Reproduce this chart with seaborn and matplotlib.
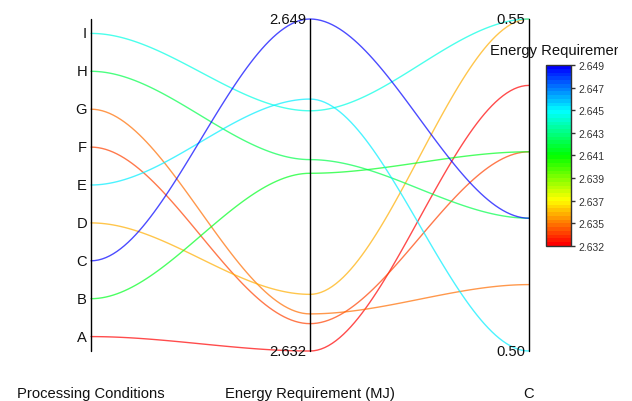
import numpy as np
import pandas as pd
import matplotlib
matplotlib.use("Agg")
import matplotlib.pyplot as plt
import seaborn as sns
from matplotlib.colors import LinearSegmentedColormap, Normalize
from matplotlib.transforms import Bbox, TransformedBbox

# data
conditions = ["A", "B", "C", "D", "E", "F", "G", "H", "I"]
energy = [2.6320, 2.6411, 2.6490, 2.6349, 2.6449, 2.6334, 2.6339, 2.6418, 2.6443]
c_values = [0.540, 0.530, 0.520, 0.550, 0.500, 0.530, 0.510, 0.520, 0.550]
axis_names = ["Processing Conditions", "Energy Requirement (MJ)", "C"]
cbar_tick_labels = ["2.632", "2.635", "2.637", "2.639", "2.641", "2.643", "2.645", "2.647", "2.649"]

e_min, e_max = 2.632, 2.649
c_min, c_max = 0.50, 0.55

cmap = LinearSegmentedColormap.from_list(
    "rainbow_rev",
    [(0.0, "#ff0000"), (0.25, "#ffff00"), (0.5, "#00ff00"), (0.75, "#00ffff"), (1.0, "#0000ff")],
    N=48,
)
norm = Normalize(e_min, e_max)


def smooth_path(p, n=60):
    # each segment is an S-curve that leaves and meets every axis horizontally
    xs, ys = [], []
    t = np.linspace(0, 1, n)
    s = 3 * t**2 - 2 * t**3
    for k in range(len(p) - 1):
        xs.append(k + t)
        ys.append(p[k] + (p[k + 1] - p[k]) * s)
    return np.concatenate(xs), np.concatenate(ys)


pad = 0.38
rows = []
for i, (cond, e, c) in enumerate(zip(conditions, energy, c_values)):
    y0 = (i + pad) / (len(conditions) - 1 + 2 * pad)
    y1 = (e - e_min) / (e_max - e_min)
    y2 = (c - c_min) / (c_max - c_min)
    xs, ys = smooth_path([y0, y1, y2])
    rows.append(pd.DataFrame({"cond": cond, "x": xs, "y": ys, "energy": e}))
df = pd.concat(rows, ignore_index=True)

sns.set_theme(style="white")
plt.rcParams["font.family"] = ["Liberation Sans", "DejaVu Sans"]
FS = 10.6

W, H = 632, 402
fig = plt.figure(figsize=(W / 100, H / 100), dpi=100)
ax = fig.add_axes([91 / W, (H - 352) / H, (529 - 91) / W, (352 - 20) / H])

sns.lineplot(data=df, x="x", y="y", hue="energy", units="cond", estimator=None,
             sort=False, palette=cmap, hue_norm=norm, legend=False,
             linewidth=1.0, alpha=0.7, ax=ax)
for ln in ax.lines:
    ln.set_clip_on(False)

ax.set_xlim(0, 2)
ax.set_ylim(0, 1)
ax.axis("off")
for xa in range(3):
    ax.axvline(xa, color="black", lw=1.0, clip_on=False)

# categorical ticks on the first axis
for i, cond in enumerate(conditions):
    y0 = (i + pad) / (len(conditions) - 1 + 2 * pad)
    ax.text(-0.018, y0, cond, ha="right", va="center", fontsize=FS, color="#111")

# range labels
off = 0.018
ax.text(1 - off, 1, f"{e_max:.3f}", ha="right", va="center", fontsize=FS, color="#111")
ax.text(1 - off, 0, f"{e_min:.3f}", ha="right", va="center", fontsize=FS, color="#111")
ax.text(2 - off, 1, f"{c_max:.2f}", ha="right", va="center", fontsize=FS, color="#111")
ax.text(2 - off, 0, f"{c_min:.2f}", ha="right", va="center", fontsize=FS, color="#111")

# axis names below
for xa, name in enumerate(axis_names):
    ax.text(xa, -0.127, name, ha="center", va="center", fontsize=FS, color="#111")

# colour bar
cax = fig.add_axes([546 / W, (H - 247) / H, 25 / W, (247 - 66) / H])
sm = plt.cm.ScalarMappable(cmap=cmap, norm=norm)
sm.set_array([])
cb = fig.colorbar(sm, cax=cax)
cb.set_ticks(np.linspace(e_min, e_max, len(cbar_tick_labels)))
cb.set_ticklabels(cbar_tick_labels)
cb.outline.set_edgecolor("#333")
cb.outline.set_linewidth(1.0)
cax.tick_params(labelsize=7.5, colors="#333", length=3, width=1, pad=2)

# legend title, cut at the right like in the reference
title = fig.text(490 / W, (H - 51) / H, "Energy Requirement (MJ)", ha="left", va="center",
                 fontsize=FS, color="#111")
title.set_clip_box(TransformedBbox(Bbox([[0, 0], [618 / W, 1]]), fig.transFigure))
title.set_clip_on(True)

fig.savefig("out.png", dpi=100, facecolor="white")
